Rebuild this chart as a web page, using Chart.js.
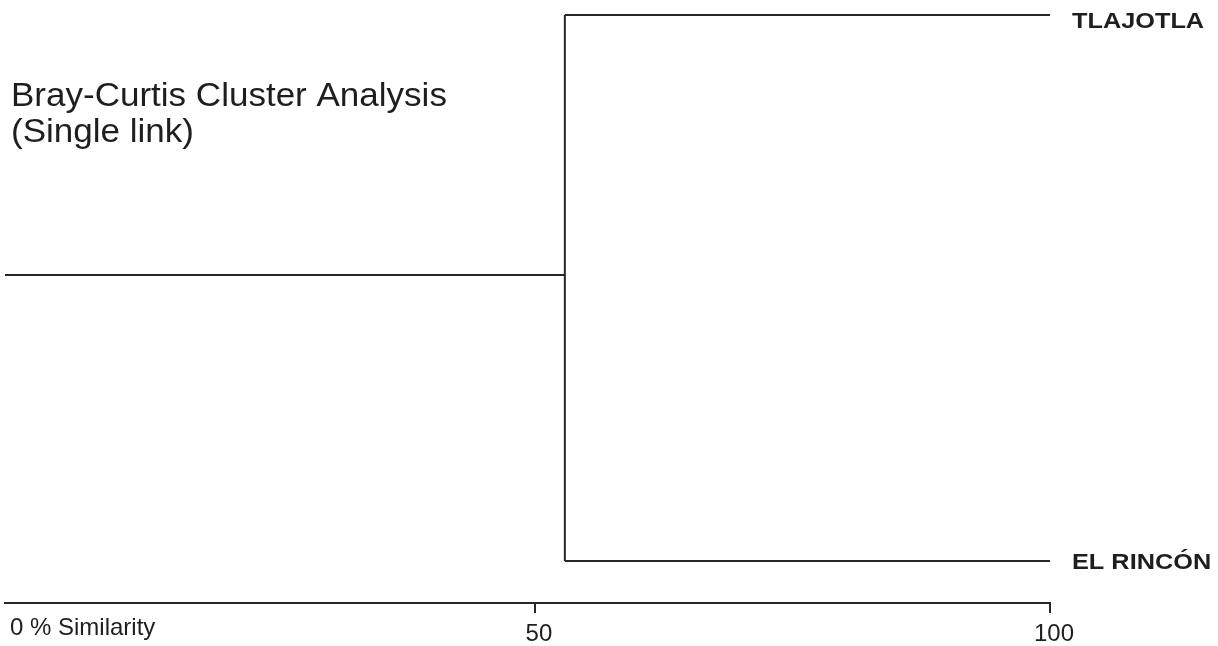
<!DOCTYPE html>
<html>
<head>
<meta charset="utf-8">
<script src="https://cdn.jsdelivr.net/npm/chart.js@4.4.1/dist/chart.umd.min.js"></script>
<style>
html,body{margin:0;padding:0;background:#fff;}
#wrap{width:1218px;height:646px;position:relative;}
</style>
</head>
<body>
<div id="wrap"><canvas id="c" width="1218" height="646"></canvas></div>
<script>
// Data
const leaves = ["TLAJOTLA", "EL RINCÓN"];
const leafY = [1, 0];              // vertical positions of leaves
const mergeSimilarity = 52.9;      // % similarity where the two leaves join
const rootY = 0.524;               // vertical position of root stem
const rootStart = -1.45;           // root stem left end
const axisTicks = [50, 100];
const axisZeroLabel = "0 % Similarity";
const titleLines = ["Bray-Curtis Cluster Analysis", "(Single link)"];

const lineColor = "#262626";
const textColor = "#1e1e1e";
const FONT = 'Arial, "Liberation Sans", sans-serif';

const segments = [
  [{x: mergeSimilarity, y: leafY[0]}, {x: 100, y: leafY[0]}],
  [{x: mergeSimilarity, y: leafY[1]}, {x: 100, y: leafY[1]}],
  [{x: mergeSimilarity, y: leafY[0]}, {x: mergeSimilarity, y: leafY[1]}],
  [{x: rootStart, y: rootY}, {x: mergeSimilarity, y: rootY}]
];

function stretchedText(ctx, text, x, y, sx) {
  ctx.save();
  ctx.translate(x, y);
  ctx.scale(sx, 1);
  ctx.fillText(text, 0, 0);
  ctx.restore();
}

const labelPlugin = {
  id: 'labels',
  afterDraw(chart) {
    const ctx = chart.ctx;
    const xs = chart.scales.x, ys = chart.scales.y;
    ctx.save();
    ctx.fillStyle = textColor;
    // title
    ctx.font = '34px ' + FONT;
    ctx.textAlign = 'left';
    ctx.textBaseline = 'alphabetic';
    stretchedText(ctx, titleLines[0], 11, 106, 1.03);
    stretchedText(ctx, titleLines[1], 11, 142, 1.03);
    // leaf labels
    ctx.font = 'bold 22px ' + FONT;
    ctx.textBaseline = 'middle';
    leaves.forEach((name, i) => {
      const py = Math.max(ys.getPixelForValue(leafY[i]), 20);
      stretchedText(ctx, name, xs.getPixelForValue(100) + 22, py + 2, 1.15);
    });
    // zero label
    ctx.font = '24px ' + FONT;
    ctx.textBaseline = 'middle';
    ctx.fillText(axisZeroLabel, 10, 628);
    ctx.restore();
  }
};

new Chart(document.getElementById('c'), {
  type: 'scatter',
  data: {
    datasets: segments.map(s => ({
      data: s,
      showLine: true,
      borderColor: lineColor,
      borderWidth: 2,
      pointRadius: 0,
      clip: false
    }))
  },
  options: {
    responsive: false,
    animation: false,
    devicePixelRatio: 1,
    layout: {padding: {left: 5, top: 15, right: 168, bottom: 0}},
    plugins: {legend: {display: false}, tooltip: {enabled: false}},
    scales: {
      x: {
        type: 'linear',
        min: rootStart,
        max: 100,
        afterBuildTicks: (s) => { s.ticks = axisTicks.map(v => ({value: v})); },
        afterFit: (s) => { s.height = 43; },
        border: {display: true, color: lineColor, width: 2},
        grid: {display: true, drawOnChartArea: false, drawTicks: true, tickLength: 10, color: lineColor, lineWidth: 2},
        ticks: {
          color: textColor,
          padding: 7,
          labelOffset: 4,
          maxRotation: 0,
          autoSkip: false,
          font: {family: FONT, size: 24},
          callback: (v) => String(v)
        }
      },
      y: {
        type: 'linear',
        display: false,
        min: -0.0769,
        max: 1
      }
    }
  },
  plugins: [labelPlugin]
});
</script>
</body>
</html>
